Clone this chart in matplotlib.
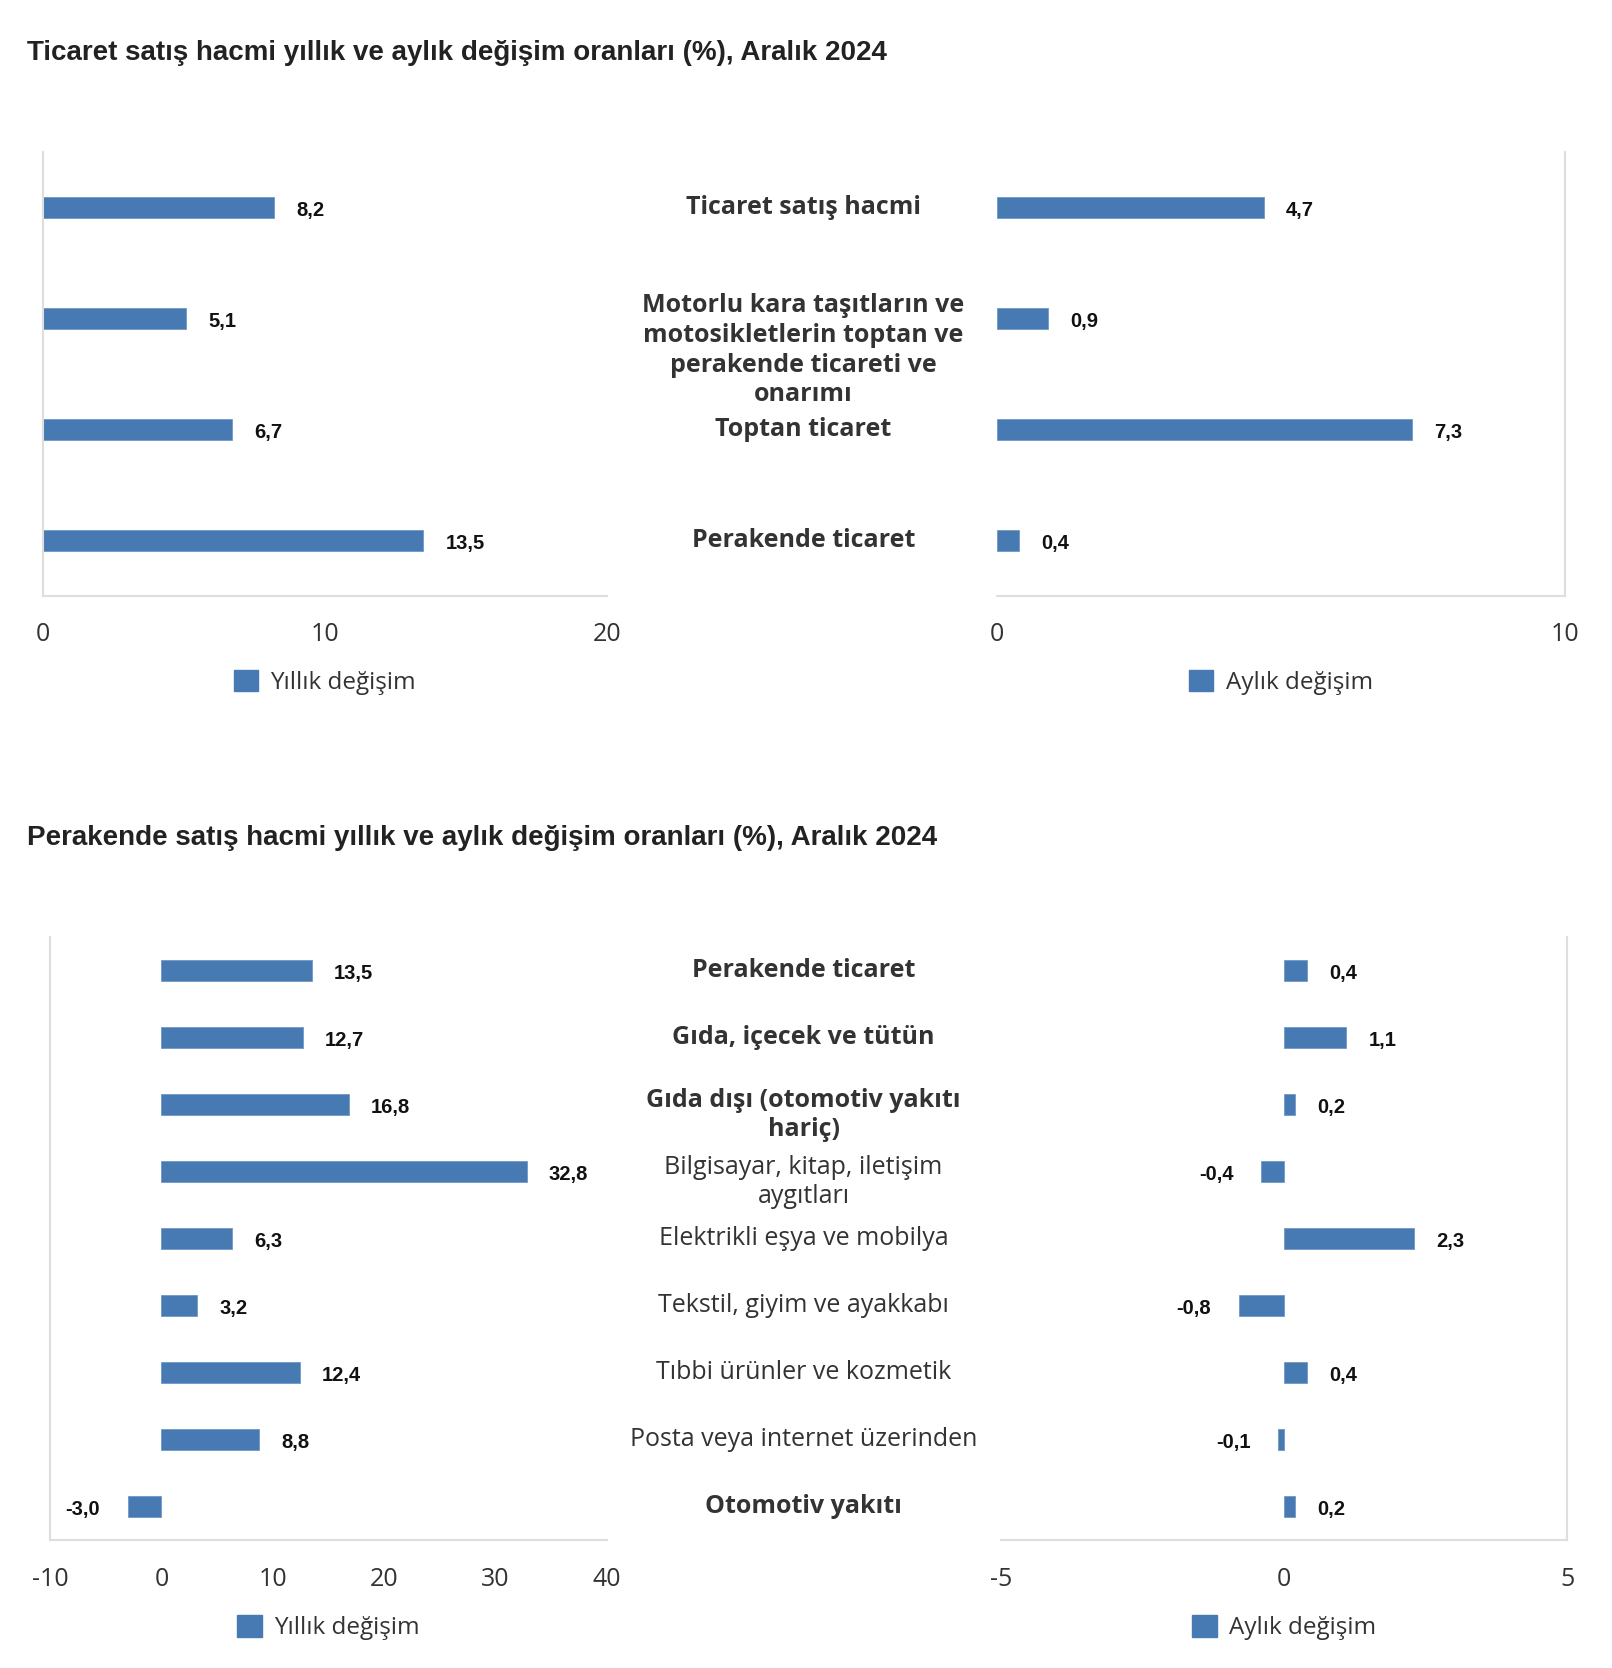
import numpy as np
import matplotlib
matplotlib.use("Agg")
import matplotlib.pyplot as plt
import matplotlib.transforms as mtransforms

# data
top_title = "Ticaret satış hacmi yıllık ve aylık değişim oranları (%), Aralık 2024"
top_cats = ["Ticaret satış hacmi",
            "Motorlu kara taşıtların ve\nmotosikletlerin toptan ve\nperakende ticareti ve\nonarımı",
            "Toptan ticaret",
            "Perakende ticaret"]
top_yillik = [8.2, 5.1, 6.7, 13.5]
top_aylik = [4.7, 0.9, 7.3, 0.4]
top_bold = [True, True, True, True]

bot_title = "Perakende satış hacmi yıllık ve aylık değişim oranları (%), Aralık 2024"
bot_cats = ["Perakende ticaret",
            "Gıda, içecek ve tütün",
            "Gıda dışı (otomotiv yakıtı\nhariç)",
            "Bilgisayar, kitap, iletişim\naygıtları",
            "Elektrikli eşya ve mobilya",
            "Tekstil, giyim ve ayakkabı",
            "Tıbbi ürünler ve kozmetik",
            "Posta veya internet üzerinden",
            "Otomotiv yakıtı"]
bot_yillik = [13.5, 12.7, 16.8, 32.8, 6.3, 3.2, 12.4, 8.8, -3.0]
bot_aylik = [0.4, 1.1, 0.2, -0.4, 2.3, -0.8, 0.4, -0.1, 0.2]
bot_bold = [True, True, True, False, False, False, False, False, True]

series_names = ["Yıllık değişim", "Aylık değişim"]

BAR = "#477ab3"
SPINE = "#dedede"
TXT = "#333333"

plt.rcParams["axes.unicode_minus"] = False

W, H = 1514.0, 1567.0  # layout units (scaled reference)


def box(x0, x1, y0, y1):
    return [x0 / W, 1 - y1 / H, (x1 - x0) / W, (y1 - y0) / H]


def fmt(v):
    return ("%.1f" % v).replace(".", ",")


def draw_side(fig, rect, vals, xlim, xticks, name, side, barh, legy):
    ax = fig.add_axes(rect)
    y = np.arange(len(vals))
    ax.barh(y, vals, height=barh, color=BAR, edgecolor="#6f97c6", linewidth=0.6)
    ax.set_xlim(xlim)
    ax.set_ylim(len(vals) - 0.5, -0.5)
    ax.set_xticks(xticks)
    ax.set_yticks([])
    ax.tick_params(axis="x", length=0, pad=19, labelsize=18, labelcolor=TXT)
    for t in ax.get_xticklabels():
        t.set_family(["Open Sans", "DejaVu Sans"])
    for s in ["top", "left", "right", "bottom"]:
        ax.spines[s].set_visible(False)
    for s in ["bottom", side]:
        ax.spines[s].set_visible(True)
        ax.spines[s].set_color(SPINE)
        ax.spines[s].set_linewidth(1.5)
    for i, v in enumerate(vals):
        if v >= 0:
            ax.annotate(fmt(v), (v, i), xytext=(16, -2), textcoords="offset points",
                        ha="left", va="center", fontsize=14.5, fontweight="bold",
                        family=["Liberation Sans", "DejaVu Sans"], color="#111111")
        else:
            ax.annotate(fmt(v), (v, i), xytext=(-20, -2), textcoords="offset points",
                        ha="right", va="center", fontsize=14.5, fontweight="bold",
                        family=["Liberation Sans", "DejaVu Sans"], color="#111111")
    leg = ax.legend([plt.Rectangle((0, 0), 1, 1, color=BAR)], [name],
                    loc="center", bbox_to_anchor=(0.5, legy), frameon=False,
                    handlelength=1.0, handleheight=1.0, handletextpad=0.5,
                    prop={"family": "Open Sans", "size": 17.5})
    for t in leg.get_texts():
        t.set_color(TXT)
    return ax


def draw_labels(fig, ax, cats, bold):
    tr = mtransforms.blended_transform_factory(fig.transFigure, ax.transData)
    for i, c in enumerate(cats):
        n = c.count("\n")
        ax.annotate(c, (0.4985, i), xycoords=tr, xytext=(0, -7.6 * n),
                    textcoords="offset points", ha="center", va="center",
                    fontsize=18, fontweight="bold" if bold[i] else "normal",
                    family=["Open Sans", "DejaVu Sans"], color=TXT,
                    linespacing=1.25, annotation_clip=False)


fig = plt.figure(figsize=(16.12, 16.68), dpi=100)

fig.text(25 / W, 1 - 50 / H, top_title, ha="left", va="center", fontsize=20,
         fontweight="bold", family=["Liberation Sans", "DejaVu Sans"], color="#222222")
fig.text(25 / W, 1 - 787 / H, bot_title, ha="left", va="center", fontsize=20,
         fontweight="bold", family=["Liberation Sans", "DejaVu Sans"], color="#222222")

a1 = draw_side(fig, box(40, 570, 143, 560), top_yillik, (0, 20), [0, 10, 20],
               series_names[0], "left", 0.19, -0.194)
a2 = draw_side(fig, box(936, 1470, 143, 560), top_aylik, (0, 10), [0, 10],
               series_names[1], "right", 0.19, -0.194)
draw_labels(fig, a1, top_cats, top_bold)

b1 = draw_side(fig, box(47, 570, 880, 1447), bot_yillik, (-10, 40),
               [-10, 0, 10, 20, 30, 40], series_names[0], "left", 0.32, -0.145)
b2 = draw_side(fig, box(940, 1472, 880, 1447), bot_aylik, (-5, 5), [-5, 0, 5],
               series_names[1], "right", 0.32, -0.145)
draw_labels(fig, b1, bot_cats, bot_bold)

fig.savefig("out.png", dpi=100, facecolor="white")
